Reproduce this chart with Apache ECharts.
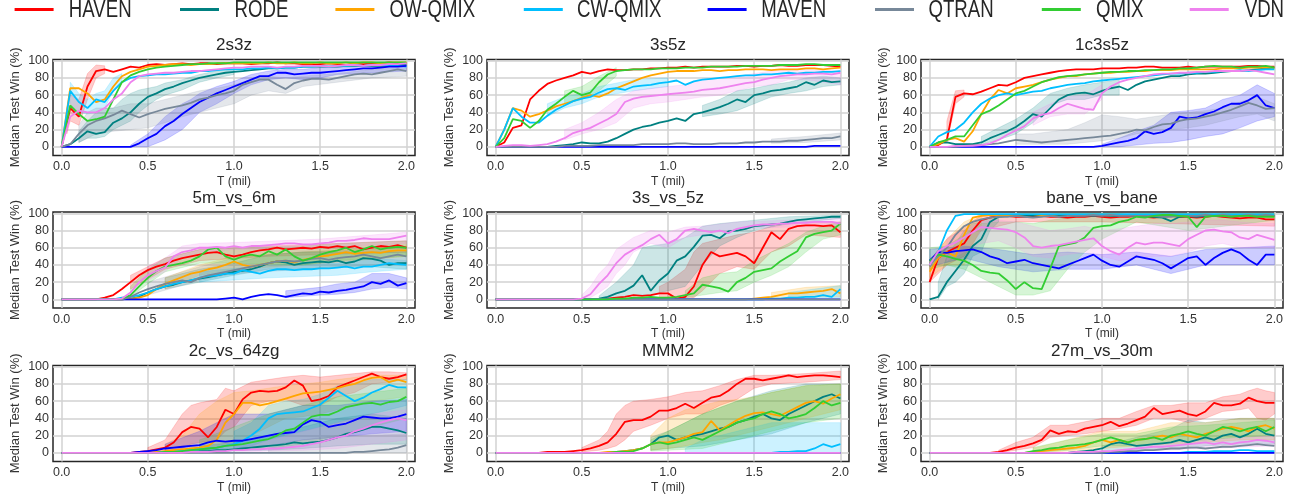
<!DOCTYPE html>
<html><head><meta charset="utf-8">
<script src="https://cdn.jsdelivr.net/npm/echarts@6/dist/echarts.min.js"></script>
<style>html,body{margin:0;padding:0;background:#fff}#c{width:1298px;height:500px}</style>
</head><body><div id="c"></div>
<script>
// ---------------- DATA ----------------
const SERIES = ['HAVEN','RODE','OW-QMIX','CW-QMIX','MAVEN','QTRAN','QMIX','VDN'];
const COLORS = ['#ff0000','#008080','#ffa500','#00bfff','#0000ff','#778899','#32cd32','#ee82ee'];
const MAPS = ['2s3z','3s5z','1c3s5z','5m_vs_6m','3s_vs_5z','bane_vs_bane','2c_vs_64zg','MMM2','27m_vs_30m'];
const T = [0,0.05,0.1,0.15,0.2,0.25,0.3,0.35,0.4,0.45, 0.5,0.55,0.6,0.65,0.7,0.75,0.8,0.85,0.9,0.95, 1,1.05,1.1,1.15,1.2,1.25,1.3,1.35,1.4,1.45, 1.5,1.55,1.6,1.65,1.7,1.75,1.8,1.85,1.9,1.95, 2];
const X_TICKS = [0, 0.5, 1, 1.5, 2];
const Y_TICKS = [0, 20, 40, 60, 80, 100];
const ZEROS = [0,0,0,0,0,0,0,0,0,0, 0,0,0,0,0,0,0,0,0,0, 0,0,0,0,0,0,0,0,0,0, 0,0,0,0,0,0,0,0,0,0, 0];

// series order: HAVEN, RODE, OW-QMIX, CW-QMIX, MAVEN, QTRAN, QMIX, VDN
const v2s3z = [
 [0,45,35,70,88,90,87,90,93,92, 95,96,95,96,97,96,97,97,96,97, 97,97,96,97,97,98,97,97,96,95, 96,97,96,95,97,96,97,97,98,97, 97],
 [0,3,10,18,15,17,28,33,40,50, 58,62,67,70,74,77,80,82,84,86, 87,88,89,90,91,91,92,92,93,93, 93,93,93,94,94,94,94,94,94,95, 95],
 [0,68,68,62,52,55,70,82,87,90, 93,94,95,96,96,95,96,96,97,97, 97,97,97,97,98,97,97,98,97,97, 98,97,97,98,97,98,98,97,98,98, 98],
 [0,65,52,45,55,52,65,75,80,82, 83,84,84,85,86,86,88,88,89,90, 90,90,91,91,92,91,92,92,93,93, 94,93,94,94,95,94,95,95,95,94, 93],
 [0,0,0,0,0,0,0,0,0,4, 10,15,24,30,38,45,52,57,62,66, 70,74,78,82,82,86,86,84,85,86, 86,87,88,89,90,91,91,92,93,93, 94],
 [0,3,15,25,30,33,37,42,38,34, 38,41,44,46,48,51,55,57,60,62, 65,72,75,78,78,72,67,74,77,79, 79,78,80,82,84,85,84,86,88,90, 88],
 [0,48,38,30,32,35,55,75,83,87, 90,92,93,94,95,96,96,97,97,97, 98,98,98,98,98,98,98,98,98,98, 98,98,98,98,98,98,98,98,98,98, 98],
 [0,35,42,40,40,45,55,62,75,82, 84,85,86,86,87,88,88,89,90,91, 92,92,93,93,93,92,93,93,94,94, 94,93,94,95,95,94,95,95,96,96, 97]
];
const v3s5z = [
 [0,5,22,25,55,65,73,77,80,83, 87,85,88,90,89,89,90,90,91,91, 92,92,93,92,93,93,93,93,94,94, 93,94,94,95,94,94,95,95,95,94, 93],
 [0,0,0,0,0,0,0,1,2,3, 5,4,4,6,10,15,20,23,25,28, 30,33,30,38,40,43,46,50,55,52, 60,62,65,66,68,70,75,72,77,75, 76],
 [0,20,45,42,35,38,42,47,50,53, 57,60,58,62,68,72,76,80,83,85, 87,88,88,88,89,89,88,89,89,90, 90,90,89,90,90,90,91,91,90,91, 92],
 [0,20,45,35,28,28,36,43,48,53, 56,58,63,67,68,66,70,71,72,74, 75,77,72,76,78,79,80,81,82,83, 83,84,84,85,86,85,86,86,87,87, 88],
 [0,0,0,0,0,0,0,0,0,0, 0,0,0,0,0,0,0,0,0,0, 0,0,0,0,0,0,0,0,0,0, 0,0,0,0,0,0,0,1,1,1, 1],
 [0,0,0,0,0,0,0,0,1,1, 1,1,2,2,2,2,2,3,3,3, 3,4,4,3,3,3,4,4,4,5, 5,6,6,6,7,7,8,9,10,10, 12],
 [0,10,32,30,22,30,43,50,58,65, 60,63,75,84,88,89,90,90,90,91, 91,91,92,92,92,93,93,93,93,94, 94,94,94,95,95,95,96,96,95,95, 95],
 [0,1,2,2,1,2,3,6,10,16, 19,22,27,32,38,52,56,58,59,60, 61,62,63,64,66,67,68,70,72,74, 75,78,80,82,83,84,84,85,85,84, 86]
];
const v1c3s5z = [
 [0,2,8,58,62,61,64,68,72,71, 75,80,82,84,86,88,89,90,90,90, 91,91,91,92,92,93,93,92,92,92, 93,92,93,93,93,93,93,94,94,93, 93],
 [0,5,5,3,3,3,5,10,14,18, 23,30,38,35,45,55,60,62,63,61, 65,68,70,66,72,76,78,80,82,82, 84,85,85,86,87,88,88,89,90,91, 92],
 [0,3,8,10,6,18,38,55,66,62, 68,70,72,75,78,80,82,82,84,85, 86,86,87,87,88,88,89,89,89,90, 90,90,90,90,91,91,91,92,92,92, 92],
 [0,12,17,20,28,40,50,56,60,62, 60,62,64,65,68,70,72,73,74,76, 77,78,79,80,81,82,83,84,85,85, 86,86,87,87,88,88,89,88,89,90, 90],
 [0,0,0,0,0,0,0,0,0,0, 0,0,0,0,0,0,0,0,0,0, 1,3,5,7,10,18,15,17,22,35, 33,34,38,41,46,50,50,54,60,48, 45],
 [0,0,0,0,1,2,2,3,4,6, 8,7,6,5,6,7,8,9,10,11, 12,13,15,17,20,19,23,26,27,30, 32,33,35,37,40,43,47,51,48,44, 45],
 [0,5,8,12,12,25,38,42,48,55, 62,65,70,75,78,81,82,83,84,85, 86,87,87,88,88,89,89,90,90,91, 91,92,93,94,93,93,92,93,93,94, 92],
 [0,0,0,1,1,1,2,4,8,14, 19,24,33,37,39,45,50,47,44,43, 62,70,75,78,80,82,84,85,85,86, 86,87,87,88,88,88,88,89,88,86, 84]
];
const v5m6m = [
 [0,0,0,0,0,2,5,12,20,28, 34,38,41,45,48,50,52,54,55,52, 50,52,55,57,58,60,58,59,60,59, 61,60,62,60,62,58,60,62,61,63, 60],
 [0,0,0,0,0,0,0,0,1,3, 8,12,15,17,20,22,24,26,28,30, 32,33,35,38,42,44,43,40,42,43, 44,43,45,42,44,48,47,45,40,42, 42],
 [0,0,0,0,0,0,0,0,1,2, 5,12,18,22,26,30,32,35,37,40, 44,40,38,40,42,44,45,43,46,48, 50,51,53,55,53,54,55,54,56,57, 57],
 [0,0,0,0,0,0,0,2,3,5, 8,12,15,18,20,22,25,27,28,30, 30,34,32,30,33,35,35,34,35,35, 36,36,37,38,36,38,38,40,42,41, 40],
 [0,0,0,0,0,0,0,0,0,0, 0,0,0,0,0,0,0,0,0,1, 2,0,3,5,6,5,3,5,7,6, 9,8,10,11,13,15,20,18,22,16, 19],
 [0,0,0,0,0,0,0,0,3,8, 12,15,18,20,22,20,25,28,30,32, 34,36,38,40,42,44,45,44,45,47, 48,46,48,49,50,52,50,48,50,52, 50],
 [0,0,0,0,0,0,0,1,5,15, 25,33,38,40,42,45,50,58,60,50, 46,50,52,50,56,52,58,50,45,48, 52,55,57,60,55,58,62,58,60,61, 60],
 [0,0,0,0,0,0,0,1,8,20, 28,33,37,50,55,57,60,60,61,60, 62,60,62,62,63,64,65,65,64,64, 65,66,68,68,69,71,70,70,70,72, 74]
];
const v3s5zb = [
 [0,0,0,0,0,0,0,0,0,0, 0,0,0,1,2,3,5,4,5,7, 7,1,3,15,40,55,50,52,54,50, 42,60,78,70,82,85,86,86,85,86, 78],
 [0,0,0,0,0,0,0,0,0,0, 0,0,1,3,7,10,16,28,10,22, 30,45,50,61,74,75,71,79,80,82, 85,86,87,88,90,92,93,94,95,96, 96],
 [0,0,0,0,0,0,0,0,0,0, 0,0,0,0,0,0,0,0,0,0, 0,0,0,0,0,0,0,0,0,0, 1,2,3,5,7,7,8,9,10,12, 7],
 [0,0,0,0,0,0,0,0,0,0, 0,0,0,0,0,0,0,0,0,0, 0,0,0,0,0,0,0,0,0,0, 0,0,1,1,2,2,3,3,5,3, 12],
 ZEROS,
 ZEROS,
 [0,0,0,0,0,0,0,0,0,0, 0,0,0,0,1,1,2,2,3,2, 2,3,5,7,17,15,13,9,20,25, 32,34,36,44,50,56,72,76,78,80, 88],
 [0,0,0,0,0,0,0,0,0,0, 1,6,18,28,42,52,58,63,70,75, 65,70,80,82,80,78,80,77,82,84, 86,87,87,88,88,89,89,90,90,90, 88]
];
const vbane = [
 [20,48,55,60,65,80,92,95,97,97, 96,96,96,97,96,96,95,96,96,97, 96,95,96,96,97,96,95,96,97,96, 96,95,96,97,96,95,94,95,95,93, 93],
 [0,3,20,33,46,62,70,90,96,97, 97,98,97,98,97,97,98,97,98,97, 98,97,97,98,97,97,96,95,91,96, 97,96,97,97,98,97,97,98,97,98, 97],
 [32,48,55,50,75,95,97,98,98,98, 98,99,99,98,98,99,99,99,99,99, 99,99,99,98,99,99,99,99,99,99, 99,99,99,98,99,99,99,99,99,99, 99],
 [40,55,80,97,99,99,99,99,99,99, 99,99,99,99,99,99,99,99,99,99, 99,99,99,99,99,99,99,99,99,99, 99,99,99,99,99,99,99,99,99,99, 99],
 [45,55,54,56,57,58,55,50,47,42, 44,46,42,40,38,36,40,44,48,52, 45,40,38,44,50,48,46,42,36,42, 48,50,40,48,54,58,54,46,40,52, 52],
 [40,50,60,75,85,90,93,95,96,96, 97,96,95,96,97,96,97,97,97,98, 97,98,97,97,97,97,97,96,96,97, 97,97,98,97,98,97,97,98,97,98, 97],
 [45,52,50,47,45,40,33,31,30,22, 12,20,13,12,36,62,64,66,72,83, 85,86,90,92,96,95,97,98,98,97, 96,84,96,97,97,96,97,97,96,96, 96],
 [40,56,62,66,72,78,84,83,82,81, 78,72,62,60,62,63,65,67,69,71, 62,56,52,60,66,64,66,66,64,62, 70,75,80,81,79,78,72,70,75,72, 69]
];
const v2c64zg = [
 [0,0,0,0,0,0,0,0,0,1, 2,4,6,12,24,30,28,18,30,50, 45,62,70,72,71,72,76,84,78,60, 62,66,76,80,84,88,92,88,86,88, 91],
 [0,0,0,0,0,0,0,0,0,0, 0,0,0,1,1,1,2,2,3,3, 4,5,6,7,8,9,10,12,11,12, 13,15,18,22,24,27,30,30,28,26, 23],
 [0,0,0,0,0,0,0,0,0,0, 0,1,2,3,4,5,6,8,15,35, 45,58,58,55,57,60,63,66,69,70, 71,73,75,78,80,84,87,88,82,85, 82],
 [0,0,0,0,0,0,0,0,0,0, 0,0,1,1,2,3,4,5,6,8, 10,14,20,28,40,45,46,47,48,52, 56,64,72,66,60,64,70,74,79,76, 76],
 [0,0,0,0,0,0,0,0,0,1, 2,3,5,6,7,8,9,12,14,13, 14,14,16,18,20,22,23,24,33,38, 36,30,32,34,38,42,41,40,40,42, 45],
 [0,0,0,0,0,0,0,0,0,0, 0,0,0,0,0,0,0,0,0,0, 0,0,0,0,0,0,0,0,0,0, 0,0,0,0,1,1,2,3,4,6, 9],
 [0,0,0,0,0,0,0,0,0,0, 0,0,1,1,2,3,4,5,6,8, 9,10,12,14,16,20,26,28,35,42, 44,44,48,53,55,57,58,56,59,60, 65],
 [0,0,0,0,0,0,0,0,0,0, 0,0,0,0,0,1,1,1,2,2, 3,3,4,4,5,5,6,7,8,10, 12,15,18,20,25,28,32,35,38,40, 38]
];
const vMMM2 = [
 [0,0,0,0,0,0,1,1,1,2, 3,5,8,12,22,36,38,38,42,49, 49,52,57,52,58,64,66,72,80,86, 86,84,86,88,90,88,89,90,90,89, 88],
 [0,0,0,0,0,0,0,0,0,0, 0,0,0,0,1,2,3,5,10,18, 20,15,18,20,22,25,28,30,35,38, 42,45,40,38,45,50,55,60,65,68, 63],
 [0,0,0,0,0,0,0,0,0,0, 0,0,0,1,1,2,3,5,10,12, 12,15,18,22,24,37,26,32,38,43, 46,47,45,43,48,53,58,60,57,63, 68],
 [0,0,0,0,0,0,0,0,0,0, 0,0,0,0,0,0,0,0,0,0, 0,0,0,0,0,0,0,0,0,0, 0,0,0,1,1,2,2,5,10,7, 10],
 ZEROS,
 ZEROS,
 [0,0,0,0,0,0,0,0,0,0, 0,0,0,0,1,1,2,5,10,12, 10,12,15,18,15,20,25,30,35,38, 40,45,48,45,40,42,45,52,60,55, 58],
 ZEROS
];
const v27m30m = [
 [0,0,0,0,0,0,0,0,1,3, 6,8,11,15,26,22,25,24,28,30, 32,36,31,34,38,42,52,45,47,49, 45,43,48,58,55,55,57,64,60,58, 58],
 [0,0,0,0,0,0,0,0,0,0, 0,0,0,0,0,0,0,1,2,3, 5,10,12,10,8,9,10,11,12,15, 12,15,18,15,20,22,18,22,28,22, 20],
 [0,0,0,0,0,0,0,0,0,0, 0,0,1,2,3,4,5,6,8,12, 15,12,15,12,15,16,18,20,18,22, 20,18,22,25,28,30,28,25,30,32, 28],
 [0,0,0,0,0,0,0,0,0,0, 0,0,0,0,0,0,0,0,0,0, 0,0,0,0,0,0,0,0,0,0, 1,1,1,2,2,2,3,3,2,2, 2],
 ZEROS,
 [0,0,0,0,0,0,0,0,0,0, 0,0,0,0,0,0,0,0,0,0, 0,1,1,2,2,3,3,4,5,5, 6,6,5,6,7,7,8,9,10,9, 8],
 [0,0,0,0,0,0,0,0,0,0, 0,0,2,3,5,6,8,9,10,12, 15,18,15,12,15,16,18,15,20,22, 25,22,20,25,30,28,25,28,30,25, 30],
 [0,0,0,0,0,0,0,0,0,0, 0,0,0,0,0,0,0,1,1,1, 2,2,3,4,5,6,7,7,8,9, 10,11,12,10,12,10,12,13,15,14, 12]
];

// shaded bands: [series, [[T, low, high], ...]]
const b2s3z = [
 ['HAVEN', [[0.03,15,45],[0.05,30,60],[0.1,25,55],[0.15,55,85],[0.2,80,95],[0.25,85,94]]],
 ['RODE', [[0.1,5,18],[0.15,10,30],[0.2,10,40],[0.25,12,45],[0.3,20,45],[0.35,25,55],[0.4,30,62],[0.45,40,66],[0.5,48,68],[0.55,55,70],[0.6,60,74],[0.7,66,78],[0.8,75,84],[0.9,80,88],[1.0,84,90]]],
 ['CW-QMIX', [[0.05,50,75],[0.1,40,62],[0.15,38,55],[0.2,40,62],[0.25,45,65],[0.3,65,80],[0.35,75,85]]],
 ['MAVEN', [[0.4,0,2],[0.5,0,15],[0.6,8,35],[0.7,20,50],[0.75,30,55],[0.8,40,62],[0.9,50,70],[1.0,62,76],[1.1,72,84],[1.2,78,88],[1.3,80,90],[1.4,78,90],[1.5,80,92],[1.6,84,92],[1.8,86,94],[2.0,88,96]]],
 ['QTRAN', [[0.1,5,25],[0.15,10,40],[0.2,15,45],[0.3,18,45],[0.4,20,50],[0.5,22,50],[0.6,28,55],[0.7,35,60],[0.8,40,65],[0.9,45,68],[1.0,50,72],[1.1,60,78],[1.2,65,82],[1.3,62,80],[1.4,70,82],[1.6,75,85],[1.8,80,90],[2.0,82,92]]]
];
const b3s5z = [
 ['RODE', [[1.2,35,48],[1.3,38,55],[1.4,42,65],[1.5,50,68],[1.6,58,72],[1.7,62,75],[1.8,65,80],[1.9,70,82],[2.0,72,80]]],
 ['CW-QMIX', [[0.3,35,50],[0.4,45,58],[0.5,50,62],[0.6,58,70],[0.8,65,78],[1.0,70,80]]],
 ['QTRAN', [[1.6,4,9],[1.8,5,12],[2.0,8,16]]],
 ['QMIX', [[0.4,50,65],[0.5,55,70],[0.6,65,82],[0.7,82,92]]],
 ['VDN', [[0.4,8,20],[0.5,15,28],[0.6,20,40],[0.7,28,55],[0.8,45,65],[0.9,50,68],[1.0,52,70],[1.1,55,72],[1.2,58,78],[1.3,60,80],[1.4,65,82],[1.5,70,85],[1.6,72,88],[1.7,78,90],[1.8,78,90],[2.0,72,88]]]
];
const b1c3s5z = [
 ['HAVEN', [[0.1,5,30],[0.15,50,65],[0.2,58,66]]],
 ['RODE', [[0.3,3,12],[0.4,8,22],[0.5,15,32],[0.6,28,45],[0.7,48,62],[0.8,55,68],[0.9,55,72],[1.0,60,75],[1.1,60,78]]],
 ['MAVEN', [[1.0,0,3],[1.1,0,10],[1.2,2,18],[1.3,4,25],[1.4,5,40],[1.5,8,42],[1.6,12,45],[1.7,15,55],[1.8,22,60],[1.9,30,72],[2.0,35,62]]],
 ['QTRAN', [[0.5,3,15],[0.6,3,15],[0.8,3,20],[0.9,5,28],[1.0,7,37],[1.1,10,35],[1.2,15,32],[1.3,18,35],[1.4,20,38],[1.5,22,40],[1.6,25,42],[1.7,30,45],[1.8,35,52],[1.9,38,58],[2.0,30,50]]],
 ['VDN', [[0.6,25,40],[0.7,35,50],[0.8,38,58],[0.9,38,60],[1.0,55,72]]]
];
const b5m6m = [
 ['HAVEN', [[0.4,12,28],[0.6,35,48],[0.8,45,58],[1.2,50,62],[2.0,55,68]]],
 ['RODE', [[0.6,12,25],[0.8,20,35],[1.0,28,42],[1.2,35,52],[1.4,35,55],[1.6,38,55],[1.8,38,55],[2.0,35,55]]],
 ['OW-QMIX', [[0.6,12,25],[0.8,28,40],[1.0,35,50],[1.4,40,55],[2.0,50,62]]],
 ['CW-QMIX', [[0.8,20,32],[1.2,25,40],[1.6,28,42],[1.8,32,48],[2.0,35,45]]],
 ['MAVEN', [[1.3,2,10],[1.5,5,14],[1.6,6,18],[1.7,8,20],[1.8,12,30],[1.9,14,30],[2.0,12,25]]],
 ['QTRAN', [[0.5,5,20],[0.8,22,38],[1.0,30,48],[1.4,35,55],[2.0,42,60]]],
 ['QMIX', [[0.4,3,15],[0.5,18,35],[0.6,32,48],[0.8,42,58],[1.0,42,60],[1.4,40,62],[1.6,45,65],[2.0,50,68]]],
 ['VDN', [[0.5,22,38],[0.6,32,48],[0.7,48,62],[0.8,55,65],[1.0,58,66],[1.5,60,70],[2.0,65,78]]]
];
const b3s5zb = [
 ['HAVEN', [[0.95,2,15],[1.0,2,20],[1.1,0,35],[1.15,2,55],[1.2,10,65],[1.3,30,70],[1.4,38,75],[1.5,35,78],[1.6,55,85],[1.7,62,88],[1.8,75,90],[2.0,72,90]]],
 ['RODE', [[0.6,0,4],[0.7,2,20],[0.8,5,40],[0.85,5,60],[0.9,5,62],[1.0,10,65],[1.1,15,72],[1.2,40,85],[1.3,62,88],[1.4,72,90],[1.5,80,92],[1.7,88,96],[2.0,94,98]]],
 ['OW-QMIX', [[1.6,0,8],[1.8,3,14],[2.0,3,16]]],
 ['CW-QMIX', [[1.7,0,8],[2.0,2,16]]],
 ['QMIX', [[1.1,2,10],[1.2,5,25],[1.3,8,30],[1.4,10,32],[1.5,20,45],[1.6,28,55],[1.7,38,65],[1.8,55,78],[1.9,70,85],[2.0,75,90]]],
 ['VDN', [[0.5,0,5],[0.55,2,15],[0.6,8,30],[0.65,15,40],[0.7,30,58],[0.75,40,65],[0.8,55,72],[0.9,65,80],[1.0,60,78],[1.1,72,84],[1.2,75,85],[1.4,82,90],[2.0,86,94]]]
];
const bbane = [
 ['HAVEN', [[0,20,45],[0.1,40,70],[0.2,50,85],[0.3,80,97],[0.5,90,99],[1.0,90,99],[2.0,85,98]]],
 ['RODE', [[0.05,0,20],[0.1,15,50],[0.15,20,65],[0.2,30,80],[0.25,50,88],[0.3,55,90],[0.35,80,96],[0.4,90,98]]],
 ['OW-QMIX', [[0,25,45],[0.1,40,70],[0.2,40,90],[0.3,85,99]]],
 ['MAVEN', [[0,38,58],[0.2,48,62],[0.4,38,58],[0.6,32,52],[0.8,35,55],[1.0,35,52],[1.2,40,55],[1.4,30,50],[1.6,40,58],[1.8,40,60],[2.0,40,62]]],
 ['QMIX', [[0,35,60],[0.1,40,62],[0.2,35,75],[0.3,25,88],[0.4,15,90],[0.5,5,90],[0.6,5,88],[0.7,10,92],[0.8,35,95],[0.9,55,97],[1.0,70,98],[1.1,80,99],[1.2,90,99],[1.5,80,99],[2.0,92,99]]],
 ['VDN', [[0.1,45,72],[0.2,55,80],[0.3,65,90],[0.4,68,92],[0.5,60,90],[0.6,50,85],[0.7,48,80],[0.8,52,82],[0.9,55,85],[1.0,50,80],[1.1,45,82],[1.2,48,85],[1.3,50,88],[1.4,50,88],[1.5,55,90],[1.6,62,92],[1.7,65,92],[1.8,60,90],[1.9,60,88],[2.0,60,88]]]
];
const b2c64zg = [
 ['HAVEN', [[0.5,0,6],[0.6,2,15],[0.65,3,30],[0.7,5,45],[0.75,10,55],[0.8,12,58],[0.9,15,62],[0.95,25,75],[1.0,30,72],[1.1,55,82],[1.2,60,85],[1.3,62,88],[1.4,55,90],[1.5,55,88],[1.6,65,90],[1.7,70,92],[1.8,80,94],[1.9,82,94],[2.0,85,93]]],
 ['RODE', [[0.8,0,8],[1.0,2,12],[1.2,3,20],[1.4,5,30],[1.6,8,40],[1.8,10,45],[2.0,10,40]]],
 ['OW-QMIX', [[0.6,0,10],[0.7,0,20],[0.8,3,45],[0.9,5,60],[1.0,10,70],[1.1,20,72],[1.2,30,75],[1.3,40,78],[1.4,42,80],[1.5,45,82],[1.6,50,85],[1.8,60,90],[2.0,65,90]]],
 ['CW-QMIX', [[1.0,5,25],[1.1,8,35],[1.2,15,55],[1.3,20,60],[1.4,25,62],[1.5,30,68],[1.6,35,78],[1.7,40,80],[1.8,45,85],[1.9,50,85],[2.0,55,85]]],
 ['MAVEN', [[0.6,0,10],[0.8,3,25],[1.0,5,45],[1.2,8,45],[1.4,15,55],[1.6,18,55],[1.8,22,60],[2.0,25,62]]],
 ['QTRAN', [[1.2,0,5],[1.4,0,15],[1.6,0,20],[1.8,0,20],[2.0,0,22]]],
 ['QMIX', [[0.8,0,15],[1.0,3,30],[1.2,5,45],[1.4,10,55],[1.6,20,65],[1.8,30,70],[2.0,40,75]]],
 ['VDN', [[1.0,0,8],[1.2,2,15],[1.4,3,25],[1.6,5,35],[1.8,10,45],[2.0,15,50]]]
];
const bMMM2 = [
 ['HAVEN', [[0.5,1,6],[0.6,3,15],[0.65,5,25],[0.7,8,45],[0.75,15,55],[0.8,25,60],[0.9,32,62],[1.0,40,65],[1.1,45,70],[1.2,45,72],[1.3,55,78],[1.4,62,85],[1.5,75,90],[1.6,80,90],[1.8,82,92],[2.0,85,95]]],
 ['RODE', [[0.9,3,18],[1.0,5,25],[1.2,8,45],[1.4,15,60],[1.6,22,72],[1.8,35,80],[2.0,45,80]]],
 ['OW-QMIX', [[0.9,3,20],[1.0,5,40],[1.1,8,50],[1.2,12,55],[1.3,15,60],[1.4,20,62],[1.5,25,65],[1.6,30,70],[1.8,40,78],[2.0,50,80]]],
 ['CW-QMIX', [[1.1,0,5],[1.2,0,15],[1.3,0,20],[1.4,0,25],[1.5,0,30],[1.6,0,35],[1.8,0,35],[2.0,0,35]]],
 ['QMIX', [[0.9,2,15],[1.0,3,25],[1.2,5,45],[1.4,15,60],[1.6,25,70],[1.8,35,78],[2.0,40,80]]]
];
const b27m30m = [
 ['HAVEN', [[0.4,0,3],[0.5,3,12],[0.6,6,18],[0.7,18,32],[0.8,20,32],[0.9,22,36],[1.0,25,40],[1.1,28,40],[1.2,32,48],[1.3,40,55],[1.4,40,55],[1.5,35,58],[1.6,40,58],[1.7,48,65],[1.8,50,68],[1.85,52,72],[1.9,40,75],[1.95,38,72],[2.0,45,70]]],
 ['RODE', [[1.0,0,8],[1.2,3,18],[1.4,5,28],[1.5,5,38],[1.6,8,35],[1.8,10,40],[2.0,10,40]]],
 ['OW-QMIX', [[0.6,0,5],[0.8,2,15],[1.0,5,25],[1.2,8,25],[1.4,10,35],[1.6,12,35],[1.8,15,40],[2.0,15,40]]],
 ['QMIX', [[0.6,0,6],[0.8,3,15],[1.0,8,22],[1.2,8,22],[1.4,12,30],[1.6,15,32],[1.8,18,35],[2.0,20,38]]],
 ['VDN', [[1.2,2,8],[1.6,5,15],[2.0,8,20]]]
];

const MAP_VALUES = [v2s3z, v3s5z, v1c3s5z, v5m6m, v3s5zb, vbane, v2c64zg, vMMM2, v27m30m];
const MAP_BANDS = [b2s3z, b3s5z, b1c3s5z, b5m6m, b3s5zb, bbane, b2c64zg, bMMM2, b27m30m];

// ---------------- LAYOUT / STYLE ----------------
const FONT = "'Liberation Sans', Arial, sans-serif";
const TXT = '#262626';
const GRIDC = '#d2d2d2';
const colLeft = [53, 487, 921], gridW = 362;
const rowTop = [59.4, 212, 365.4], gridH = 96;
const titleX = [234, 668, 1102], titleY = [45.7, 198.3, 351.7];
const T_MIN = -0.05, T_MAX = 2.05, T_STEP = 0.05;
const Y_MIN = -10, Y_MAX = 101.5, Y_STEP = 10;
const TR = 'rgba(0,0,0,0)';
const xSplitColors = [TR, GRIDC, TR, TR, TR, TR, TR, TR, TR, TR];
const ySplitColors = [TR, GRIDC];

function isTick(v, list) { return list.some(t => Math.abs(t - v) < 1e-6); }

const chart = echarts.init(document.getElementById('c'), null, {renderer: 'canvas'});
const grids = [], xAxes = [], yAxes = [], series = [], graphics = [];

MAPS.forEach((m, gi) => {
  const r = Math.floor(gi / 3), c = gi % 3;
  grids.push({left: colLeft[c], top: rowTop[r], width: gridW, height: gridH,
    show: true, borderColor: TXT, borderWidth: 1.5, backgroundColor: 'transparent'});
  xAxes.push({type: 'value', gridIndex: gi, min: T_MIN, max: T_MAX, interval: T_STEP,
    axisLine: {show: false}, axisTick: {show: false},
    axisLabel: {fontSize: 12.5, color: '#333', margin: 5, fontFamily: FONT, showMinLabel: true, showMaxLabel: true,
      formatter: v => isTick(v, X_TICKS) ? v.toFixed(1) : ''},
    splitLine: {show: true, lineStyle: {color: xSplitColors, width: 1.5}},
    name: 'T (mil)', nameLocation: 'middle', nameGap: 20,
    nameTextStyle: {fontSize: 12, color: '#333', fontFamily: FONT}});
  yAxes.push({type: 'value', gridIndex: gi, min: Y_MIN, max: Y_MAX, interval: Y_STEP,
    axisLine: {show: false}, axisTick: {show: false},
    axisLabel: {fontSize: 12.5, color: '#333', margin: 4, fontFamily: FONT,
      formatter: v => isTick(v, Y_TICKS) ? String(Math.round(v)) : ''},
    splitLine: {show: true, lineStyle: {color: ySplitColors, width: 1.5}},
    name: 'Median Test Win (%)', nameLocation: 'middle', nameGap: 31, nameRotate: 90,
    nameTextStyle: {fontSize: 13, color: '#333', fontFamily: FONT}});
  graphics.push({type: 'text', x: titleX[c], y: titleY[r], silent: true,
    style: {text: m, font: '17px ' + FONT, fill: TXT, align: 'center', verticalAlign: 'middle',
      textAlign: 'center', textVerticalAlign: 'middle'}});

  MAP_BANDS[gi].forEach(([name, pts]) => {
    const col = COLORS[SERIES.indexOf(name)];
    series.push({type: 'custom', xAxisIndex: gi, yAxisIndex: gi, silent: true, z: 1, clip: true,
      data: [[pts[0][0], pts[0][1]]],
      renderItem: (params, api) => {
        const up = pts.map(p => api.coord([p[0], p[2]]));
        const lo = pts.slice().reverse().map(p => api.coord([p[0], p[1]]));
        return {type: 'polygon', shape: {points: up.concat(lo)},
          style: {fill: col, opacity: 0.2, stroke: col, lineWidth: 0.8}};
      }});
  });
  MAP_VALUES[gi].forEach((vals, si) => {
    series.push({type: 'line', name: SERIES[si], xAxisIndex: gi, yAxisIndex: gi,
      data: T.map((t, i) => [t, vals[i]]), showSymbol: false, symbol: 'none', silent: true, z: 3,
      lineStyle: {width: 1.8, color: COLORS[si]}, itemStyle: {color: COLORS[si]}});
  });
});

// legend drawn as graphic keys (line + condensed text) to match the narrow legend lettering
const legendLineX = [14.6, 180, 335.4, 523.8, 707.6, 875, 1041.8, 1189.7];
const legendTextX = [68.8, 234.6, 389.6, 577, 761.3, 928.4, 1095.9, 1244.7];
SERIES.forEach((n, i) => {
  graphics.push({type: 'line', silent: true,
    shape: {x1: legendLineX[i], y1: 9.5, x2: legendLineX[i] + 39, y2: 9.5},
    style: {stroke: COLORS[i], lineWidth: 3}});
  graphics.push({type: 'text', x: legendTextX[i], y: 10.6, scaleX: 0.81, silent: true,
    style: {text: n, font: '23px ' + FONT, fill: TXT, align: 'left', verticalAlign: 'middle',
      textAlign: 'left', textVerticalAlign: 'middle'}});
});

chart.setOption({
  animation: false,
  backgroundColor: '#ffffff',
  grid: grids, xAxis: xAxes, yAxis: yAxes, series: series,
  graphic: graphics
});
</script></body></html>
